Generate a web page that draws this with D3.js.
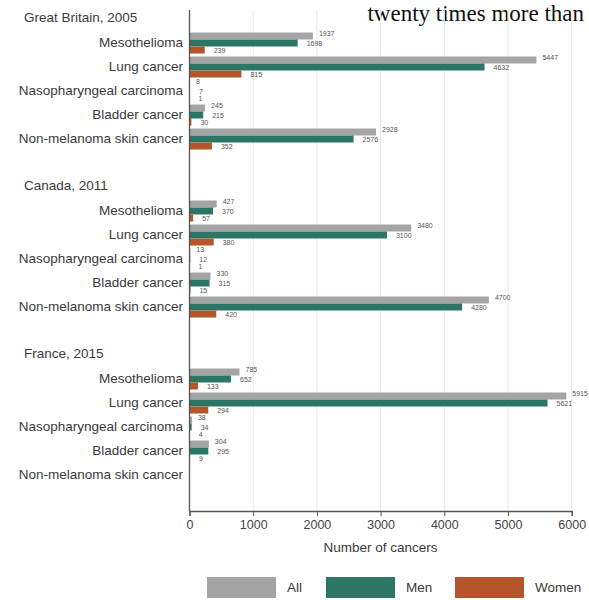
<!DOCTYPE html>
<html><head><meta charset="utf-8">
<script src="https://cdn.jsdelivr.net/npm/d3@7"></script>
<style>
html,body{margin:0;padding:0;background:#fff;overflow:hidden;}
svg{display:block;}
</style></head>
<body>
<svg id="chart" width="589" height="600"></svg>
<script>
const groups = ["Great Britain, 2005", "Canada, 2011", "France, 2015"];
const categories = ["Mesothelioma", "Lung cancer", "Nasopharyngeal carcinoma", "Bladder cancer", "Non-melanoma skin cancer"];
const series = ["All", "Men", "Women"];
const allValues   = [[1937, 5447, 8, 245, 2928], [427, 3480, 13, 330, 4700], [785, 5915, 38, 304, null]];
const menValues   = [[1698, 4632, 7, 215, 2576], [370, 3100, 12, 315, 4280], [652, 5621, 34, 295, null]];
const womenValues = [[239, 815, 1, 30, 352], [57, 380, 1, 15, 420], [133, 294, 4, 9, null]];
const xTicks = [0, 1000, 2000, 3000, 4000, 5000, 6000];
const xTitle = "Number of cancers";
const colors = ["#a4a4a4", "#2d7666", "#b5552b"];

const seriesValues = [allValues, menValues, womenValues];
const svg = d3.select("#chart");
const font = "'Liberation Sans', Arial, sans-serif";

// stray text from surrounding page
svg.append("text").attr("x", 584).attr("y", 21).attr("text-anchor", "end")
  .attr("font-family", "'Liberation Serif', 'Times New Roman', serif")
  .attr("font-size", 23).attr("fill", "#111").text("twenty times more than");

// rows: each group = title row + 5 categories + blank row
const rows = [];
groups.forEach((g, gi) => {
  rows.push({key: g + "|title", type: "title", label: g});
  categories.forEach((c, ci) => rows.push({key: g + "|" + c, type: "cat", label: c, gi, ci}));
  rows.push({key: g + "|blank", type: "blank"});
});

const x = d3.scaleLinear().domain([0, 6000]).range([189.5, 571.7]);
const y = d3.scaleBand().domain(rows.map(r => r.key)).range([7, 511]).padding(0);
const ys = d3.scaleBand().domain(series).range([-10.5, 10.5]).padding(0);

// gridlines
svg.append("g").selectAll("line").data(xTicks.slice(1)).join("line")
  .attr("x1", d => x(d)).attr("x2", d => x(d))
  .attr("y1", 10).attr("y2", 511)
  .attr("stroke", "#e8e8e8").attr("stroke-width", 1);

// bars
const bars = [];
rows.filter(r => r.type === "cat").forEach(r => {
  series.forEach((s, si) => {
    const v = seriesValues[si][r.gi][r.ci];
    if (v !== null) bars.push({row: r, s, si, v});
  });
});
svg.append("g").selectAll("rect").data(bars).join("rect")
  .attr("x", x(0))
  .attr("y", d => y(d.row.key) + y.bandwidth() / 2 + ys(d.s))
  .attr("width", d => x(d.v) - x(0))
  .attr("height", ys.bandwidth())
  .attr("fill", d => colors[d.si]);

// value labels
const offs = [6, 9, 9];
const dy = [-2, 1, 1];
svg.append("g").selectAll("text").data(bars).join("text")
  .attr("x", d => x(d.v) + offs[d.si])
  .attr("y", d => y(d.row.key) + y.bandwidth() / 2 + ys(d.s) + ys.bandwidth() / 2 + dy[d.si])
  .attr("dominant-baseline", "middle")
  .attr("font-family", font).attr("font-size", 7).attr("fill", "#555")
  .text(d => d.v);

// category and group labels
svg.append("g").selectAll("text").data(rows.filter(r => r.type === "cat")).join("text")
  .attr("x", 183).attr("y", r => y(r.key) + y.bandwidth() / 2)
  .attr("dominant-baseline", "middle").attr("text-anchor", "end")
  .attr("font-family", font).attr("font-size", 13.5).attr("fill", "#3a3a3a")
  .text(r => r.label);
svg.append("g").selectAll("text").data(rows.filter(r => r.type === "title")).join("text")
  .attr("x", 24).attr("y", r => y(r.key) + y.bandwidth() / 2 - 1)
  .attr("dominant-baseline", "middle")
  .attr("font-family", font).attr("font-size", 13.5).attr("fill", "#3a3a3a")
  .text(r => r.label);

// left axis line
svg.append("line").attr("x1", x(0)).attr("x2", x(0)).attr("y1", 10).attr("y2", 511)
  .attr("stroke", "#555").attr("stroke-width", 1.3);

// bottom axis
const xAxis = d3.axisBottom(x).tickValues(xTicks).tickSize(5).tickPadding(4).tickFormat(d3.format("d"));
const gx = svg.append("g").attr("transform", "translate(0,511)").call(xAxis);
gx.select(".domain").attr("stroke", "#555").attr("stroke-width", 1.3);
gx.selectAll(".tick line").attr("stroke", "#555");
gx.selectAll(".tick text").attr("font-family", font).attr("font-size", 12.5).attr("fill", "#444");

svg.append("text").attr("x", (x(0) + x(6000)) / 2).attr("y", 548)
  .attr("text-anchor", "middle").attr("dominant-baseline", "middle")
  .attr("font-family", font).attr("font-size", 13.5).attr("fill", "#3a3a3a")
  .text(xTitle);

// legend
const legX = [207, 326, 455];
const lg = svg.append("g").selectAll("g").data(series).join("g")
  .attr("transform", (d, i) => `translate(${legX[i]},577)`);
lg.append("rect").attr("width", 69).attr("height", 21).attr("fill", (d, i) => colors[i]);
lg.append("text").attr("x", 80).attr("y", 11).attr("dominant-baseline", "middle")
  .attr("font-family", font).attr("font-size", 13.5).attr("fill", "#3a3a3a")
  .text(d => d);
</script>
</body></html>
